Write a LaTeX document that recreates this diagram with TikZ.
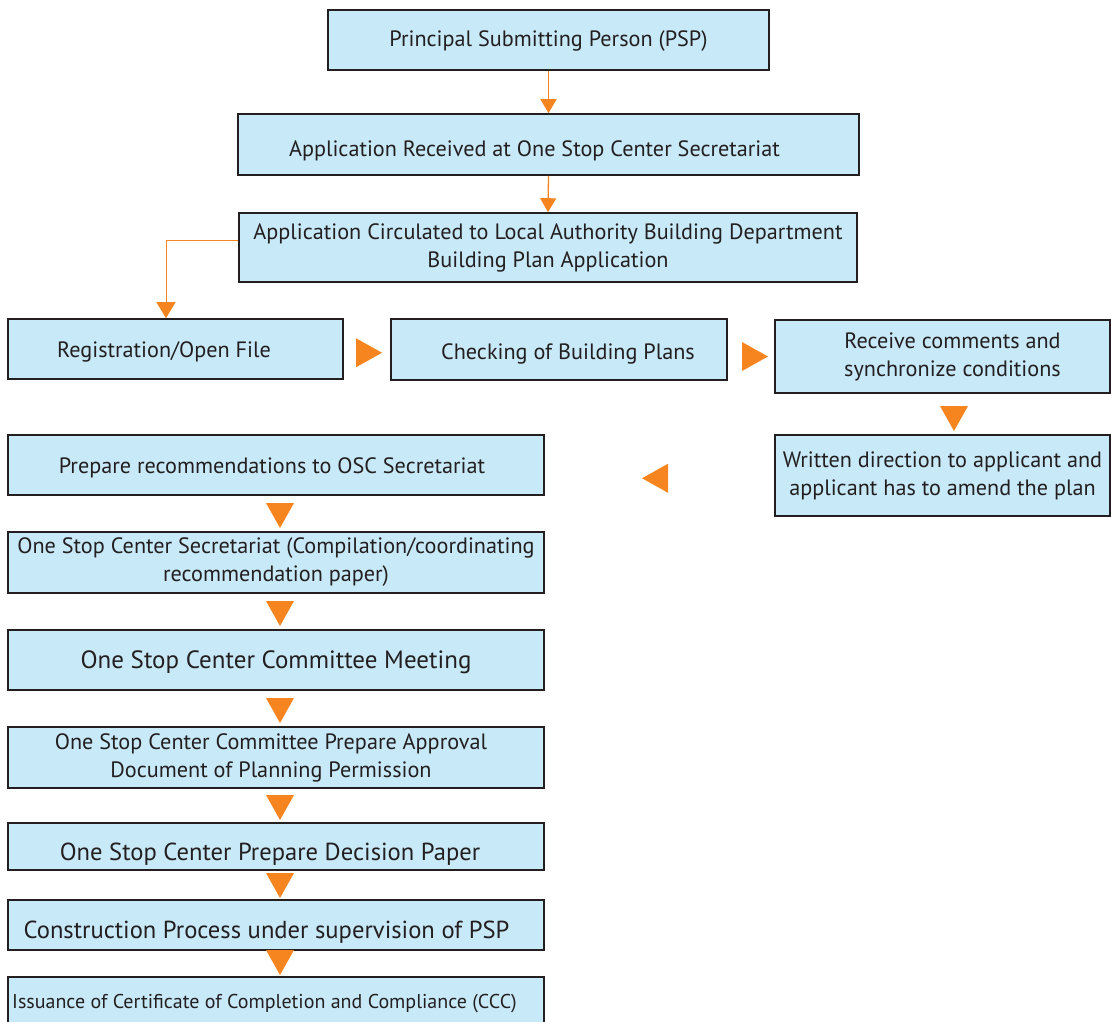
\documentclass[tikz,border=0pt]{standalone}
\usepackage{fontspec}
\setmainfont{PT Sans}
\usetikzlibrary{calc,arrows.meta}
\definecolor{boxfill}{HTML}{C8E9F8}
\definecolor{boxline}{HTML}{231F20}
\definecolor{flow}{HTML}{F6851F}
% pad on the right to move a label off-centre
\newcommand\padR[1]{\kern#1pt}

\begin{document}
\begin{tikzpicture}[x=1pt,y=-1pt,
  box/.style={draw=boxline, line width=1.6pt, fill=boxfill, text=boxline,
    align=center, inner sep=0pt, font=\fontsize{22.2}{28}\selectfont},
  % baseline sits #1/2 below the centre of a one-line box
  baseline drop/.style={text height=#1, text depth=0pt},
  bigtext/.style={font=\fontsize{25}{28}\selectfont},
  midtext/.style={font=\fontsize{24.6}{28}\selectfont},
  smalltext/.style={font=\fontsize{20}{24}\selectfont},
  link/.style={draw=flow, line width=1.3pt, -{Triangle[length=14pt,width=16pt]}},
  downtri/.pic={\fill[flow] (-14,-12.5) -- (14,-12.5) -- (0,12.5) -- cycle;},
  righttri/.pic={\fill[flow] (-13,-14.5) -- (13,0) -- (-13,14.5) -- cycle;},
  lefttri/.pic={\fill[flow] (13,-14.5) -- (-13,0) -- (13,14.5) -- cycle;},
]
\useasboundingbox (0,0) rectangle (1111,1021);
\clip (0,0) rectangle (1111,1021);

% top chain
\node[box, baseline drop=12pt, minimum width=441, minimum height=60] (psp) at (548.5,40)
  {Principal Submitting Person (PSP)};
\node[box, baseline drop=23pt, minimum width=621, minimum height=61] (recv) at (548.5,144.5)
  {Application Received at One Stop Center Secretariat\padR{28}};
\node[box, minimum width=618, minimum height=69] (circ) at (548,247.5)
  {Application Circulated to Local Authority Building Department\\Building Plan Application};

% checking row
\node[box, baseline drop=16pt, minimum width=335, minimum height=60] (reg) at (175.5,349)
  {Registration/Open File\padR{23}};
\node[box, baseline drop=19pt, minimum width=336, minimum height=61] (check) at (559,349.5)
  {\kern18pt Checking of Building Plans};
\node[box, minimum width=335, minimum height=73] (comm) at (942.5,356.5)
  {\kern20pt Receive comments and\\\kern20pt synchronize conditions};
\node[box, minimum width=335, minimum height=81] (amend) at (942.5,475.5)
  {Written direction to applicant and\\applicant has to amend the plan};

% left column
\node[box, baseline drop=16pt, minimum width=536, minimum height=60] (prep) at (276,465)
  {Prepare recommendations to OSC Secretariat\padR{8}};
\node[box, minimum width=536, minimum height=61] (osc) at (276,562.5)
  {One Stop Center Secretariat (Compilation/coordinating\\recommendation paper)};
\node[box, bigtext, baseline drop=17pt, minimum width=536, minimum height=60] (meet) at (276,660)
  {One Stop Center Committee Meeting};
\node[box, minimum width=536, minimum height=61] (appr) at (276,757.5)
  {One Stop Center Committee Prepare Approval\padR{10}\\Document of Planning Permission\padR{10}};
\node[box, midtext, baseline drop=27pt, minimum width=536, minimum height=47] (dec) at (276,846.5)
  {One Stop Center Prepare Decision Paper\padR{12}};
\node[box, midtext, baseline drop=26pt, minimum width=536, minimum height=50] (cons) at (276,925)
  {Construction Process under supervision of PSP\padR{19}};
\node[box, smalltext, baseline drop=9pt, minimum width=536, minimum height=53] (iss) at (276,1003.5)
  {Issuance of Certificate of Completion and Compliance (CCC)\padR{23}};

% connectors
\draw[link] (psp.south) -- (recv.north);
\draw[link] (recv.south) -- (circ.north);
\coordinate (bend) at ($(circ.west)+(0,-7.5)$);
\draw[link, line width=1pt, -{Triangle[length=16pt,width=19pt]}]
  (bend) -| ($(reg.north)+(-9.5,0)$);

% flow triangles
\pic at ($(reg.east)!0.5!(check.west)+(2,3.5)$) {righttri};
\pic at ($(check.east)!0.5!(comm.west)+(4,3.5)$) {righttri};
\pic at ($(comm.south)!0.5!(amend.north)+(11.5,4.5)$) {downtri};
\pic at ($(prep.east)!0.5!(amend.west)+(-4.5,8)$) {lefttri};
\pic at ($(prep.south)!0.5!(osc.north)+(4,2)$) {downtri};
\pic at ($(osc.south)!0.5!(meet.north)+(4,2)$) {downtri};
\pic at ($(meet.south)!0.5!(appr.north)+(4,2)$) {downtri};
\pic at ($(appr.south)!0.5!(dec.north)+(4,2)$) {downtri};
\pic at ($(dec.south)!0.5!(cons.north)+(4,0.5)$) {downtri};
\pic at ($(cons.south)!0.5!(iss.north)+(4,-1)$) {downtri};
\end{tikzpicture}
\end{document}
